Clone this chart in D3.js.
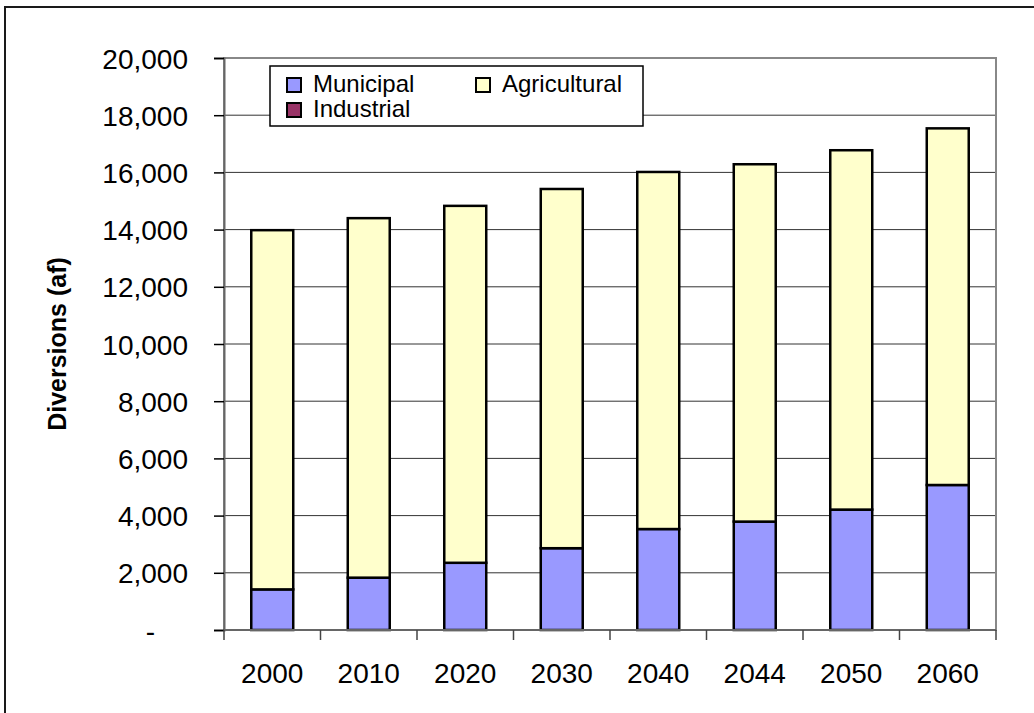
<!DOCTYPE html>
<html>

<head>
  <title>Diversions</title>
  <meta charset="utf-8">
  <script src="https://d3js.org/d3.v7.min.js"></script>
  <style>
    body {
      margin: 0;
      background: #fff;
    }
    text {
      font-family: "Liberation Sans", Arial, sans-serif;
      fill: #000;
    }
  </style>
</head>

<body>
  <svg width="1034" height="713"></svg>
  <script>
    // data (acre-feet)
    const years = ["2000", "2010", "2020", "2030", "2040", "2044", "2050", "2060"];
    const municipal = [1420, 1830, 2350, 2860, 3530, 3790, 4210, 5070];
    const industrial = [0, 0, 0, 0, 0, 0, 0, 0];
    const agricultural = [12560, 12570, 12480, 12560, 12485, 12495, 12565, 12470];
    const yTicks = [0, 2000, 4000, 6000, 8000, 10000, 12000, 14000, 16000, 18000, 20000];

    const seriesNames = ["Municipal", "Industrial", "Agricultural"];
    const colors = { Municipal: "#9999ff", Industrial: "#993366", Agricultural: "#ffffcc" };

    const rows = years.map((y, i) => ({
      year: y,
      Municipal: municipal[i],
      Industrial: industrial[i],
      Agricultural: agricultural[i]
    }));

    const svg = d3.select("svg");
    const plot = { left: 224, top: 58, right: 996, bottom: 630 };

    // outer chart frame (only top and left edges fall inside the picture)
    svg.append("path")
      .attr("d", "M5,720 L5,7 L1034,7")
      .attr("fill", "none")
      .attr("stroke", "#1a1a1a")
      .attr("stroke-width", 2);

    const x = d3.scaleBand().domain(years).range([plot.left, plot.right]).paddingInner(0.565).paddingOuter(0.2825);
    const xBand = d3.scaleBand().domain(years).range([plot.left, plot.right]);
    const y = d3.scaleLinear().domain([0, 20000]).range([plot.bottom, plot.top]);

    // gridlines
    svg.append("g")
      .selectAll("line")
      .data(yTicks.filter(d => d > 0))
      .join("line")
      .attr("x1", plot.left).attr("x2", plot.right)
      .attr("y1", d => y(d)).attr("y2", d => y(d))
      .attr("stroke", "#333")
      .attr("stroke-width", 1);

    // plot area border
    svg.append("rect")
      .attr("x", plot.left).attr("y", plot.top)
      .attr("width", plot.right - plot.left).attr("height", plot.bottom - plot.top)
      .attr("fill", "none")
      .attr("stroke", "#888")
      .attr("stroke-width", 2);

    // stacked bars
    const stack = d3.stack().keys(seriesNames)(rows);
    svg.append("g")
      .selectAll("g")
      .data(stack)
      .join("g")
      .attr("fill", d => colors[d.key])
      .selectAll("rect")
      .data(d => d.filter(p => p[1] - p[0] > 0))
      .join("rect")
      .attr("x", d => x(d.data.year))
      .attr("width", x.bandwidth())
      .attr("y", d => y(d[1]))
      .attr("height", d => y(d[0]) - y(d[1]))
      .attr("stroke", "#000")
      .attr("stroke-width", 2.5);

    // y axis
    const yAxis = d3.axisLeft(y)
      .tickValues(yTicks)
      .tickSize(10)
      .tickPadding(36)
      .tickFormat(d => d === 0 ? "-" : d3.format(",")(d));
    const gy = svg.append("g")
      .attr("transform", `translate(${plot.left},0)`)
      .call(yAxis);
    gy.select(".domain").attr("stroke", "#666").attr("stroke-width", 2);
    gy.selectAll(".tick line").attr("stroke", "#000").attr("stroke-width", 1.5);
    gy.selectAll(".tick text")
      .style("font-size", "28px")
      .attr("dy", "0.36em")
      .attr("x", d => d === 0 ? -69 : -36);

    // x axis: ticks sit between categories
    const gx = svg.append("g");
    gx.append("line")
      .attr("x1", plot.left).attr("x2", plot.right)
      .attr("y1", plot.bottom).attr("y2", plot.bottom)
      .attr("stroke", "#666").attr("stroke-width", 2);
    gx.selectAll("line.tk")
      .data(years.map(d => xBand(d)).concat([plot.right]))
      .join("line")
      .attr("class", "tk")
      .attr("x1", d => d).attr("x2", d => d)
      .attr("y1", plot.bottom).attr("y2", plot.bottom + 10)
      .attr("stroke", "#444").attr("stroke-width", 1.5);
    gx.selectAll("text")
      .data(years)
      .join("text")
      .attr("x", d => xBand(d) + xBand.bandwidth() / 2)
      .attr("y", 683)
      .attr("text-anchor", "middle")
      .style("font-size", "28px")
      .text(d => d);

    // y title
    svg.append("text")
      .attr("transform", `translate(66,${(plot.top + plot.bottom) / 2}) rotate(-90)`)
      .attr("text-anchor", "middle")
      .style("font-size", "25px")
      .style("font-weight", "bold")
      .text("Diversions (af)");

    // legend
    const legend = svg.append("g");
    legend.append("rect")
      .attr("x", 270).attr("y", 66)
      .attr("width", 373).attr("height", 60)
      .attr("fill", "#fff")
      .attr("stroke", "#000")
      .attr("stroke-width", 1.5);
    const legendPos = {
      Municipal: [287, 78],
      Agricultural: [476, 78],
      Industrial: [287, 103]
    };
    const items = legend.selectAll("g.item")
      .data(seriesNames)
      .join("g")
      .attr("class", "item")
      .attr("transform", d => `translate(${legendPos[d][0]},${legendPos[d][1]})`);
    items.append("rect")
      .attr("width", 14).attr("height", 14)
      .attr("fill", d => colors[d])
      .attr("stroke", "#000")
      .attr("stroke-width", 2);
    items.append("text")
      .attr("x", 26)
      .attr("y", 14)
      .style("font-size", "24px")
      .text(d => d);
  </script>
</body>

</html>
